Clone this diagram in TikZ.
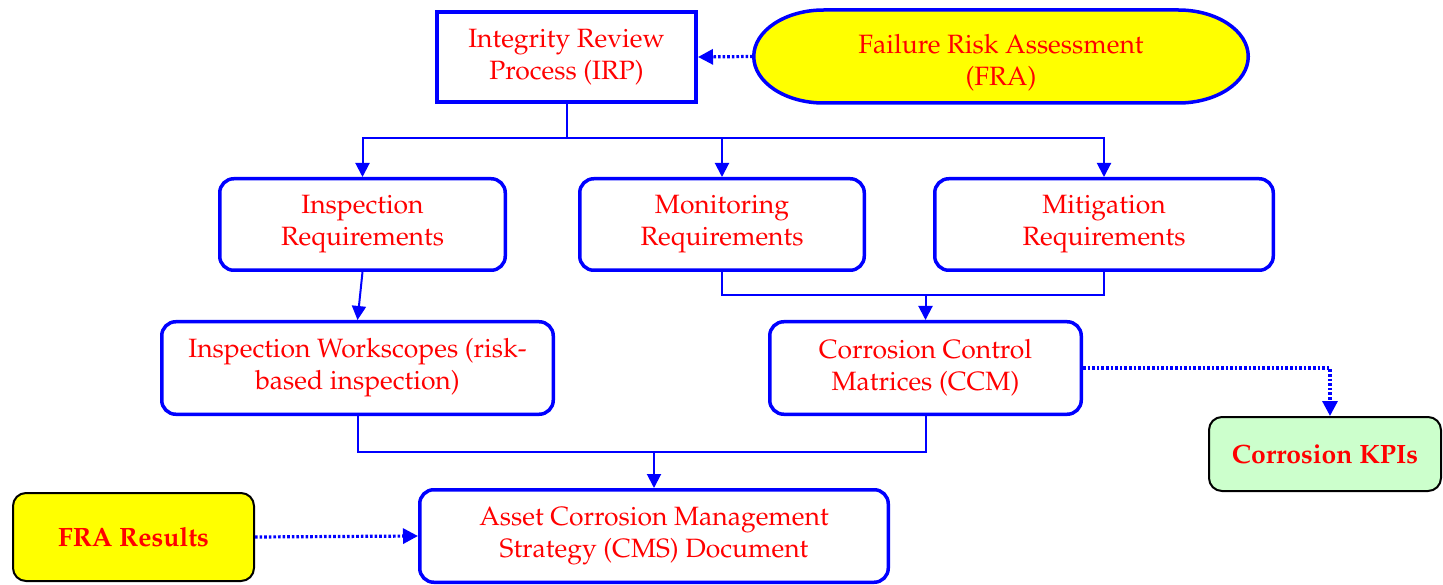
\documentclass[tikz,border=0pt]{standalone}
\usepackage[T1]{fontenc}
\usepackage{mathpazo}
\usetikzlibrary{arrows.meta}
\definecolor{kpigreen}{RGB}{204,255,204}
\definecolor{pyellow}{RGB}{255,255,0}
\definecolor{pblue}{RGB}{0,0,255}
\definecolor{pred}{RGB}{255,0,0}
\begin{document}
\begin{tikzpicture}[x=1pt,y=-1pt,
  txt/.style={text=pred, align=center, font=\fontsize{26.5}{32}\selectfont, inner sep=0pt},
  bluebox/.style={txt, draw=pblue, line width=3.5pt, rounded corners=14pt, fill=white},
  irpbox/.style={txt, draw=pblue, line width=4pt, fill=white},
  blackbox/.style={txt, draw=black, line width=2pt, rounded corners=13pt, font=\fontsize{26.5}{32}\selectfont\bfseries},
  conn/.style={draw=pblue, line width=2pt},
  arr/.style={conn, -{Triangle[length=14pt,width=14pt]}},
  dotarr/.style={draw=pblue, line width=3.2pt, dash pattern=on 2.6pt off 2pt, -{Triangle[length=15pt,width=15pt]}}
]
\useasboundingbox (0,0) rectangle (1443,585);
\fill[white] (0,0) rectangle (1443,585);

% FRA elliptic-ended shape
\draw[draw=pblue, line width=3.5pt, fill=pyellow]
  (823.75,10) -- (1178.25,10)
  .. controls (1216.9,10) and (1248.25,30.8) .. (1248.25,56.5)
  .. controls (1248.25,82.2) and (1216.9,103) .. (1178.25,103)
  -- (823.75,103)
  .. controls (785.1,103) and (753.75,82.2) .. (753.75,56.5)
  .. controls (753.75,30.8) and (785.1,10) .. cycle;

% nodes
\node[irpbox, minimum width=259pt, minimum height=90pt] (irp) at (566.5,57) {Integrity Review\\Process (IRP)};
\node[minimum width=496pt, minimum height=95pt, inner sep=0pt] (fra) at (1001,56.5) {};
\node[txt] (fratext) at (1001,63) {Failure Risk Assessment\\(FRA)};

\node[bluebox, minimum width=285.5pt, minimum height=91.5pt] (ireq) at (362.5,224.5) {Inspection\\Requirements};
\node[bluebox, minimum width=284.5pt, minimum height=91.5pt] (mreq) at (722,224.5) {Monitoring\\Requirements};
\node[bluebox, minimum width=338.5pt, minimum height=91.5pt] (mitreq) at (1104,224.5) {Mitigation\\Requirements};

\node[bluebox, minimum width=391.5pt, minimum height=92.5pt] (iws) at (357.5,368) {Inspection Workscopes (risk-\\based inspection)};
\node[bluebox, minimum width=311.5pt, minimum height=92.5pt] (ccm) at (925.5,368) {Corrosion Control\\Matrices (CCM)};

\node[blackbox, fill=kpigreen, minimum width=232pt, minimum height=74pt] (kpi) at (1325,454) {Corrosion KPIs};

\node[bluebox, minimum width=468.5pt, minimum height=92.5pt] (cms) at (654,536) {Asset Corrosion Management\\Strategy (CMS) Document};
\node[blackbox, fill=pyellow, minimum width=241pt, minimum height=88pt] (frares) at (133.5,537) {FRA Results};

% junctions
\coordinate (j1) at (566.5,138);
\coordinate (j2) at (925.5,295);
\coordinate (j3) at (654,452);

% connectors
\draw[conn] (irp.south) -- (j1);
\draw[arr] (j1) -| (ireq.north);
\draw[arr] (j1) -| (mreq.north);
\draw[arr] (j1) -| (mitreq.north);

\draw[arr] (ireq.south) -- (iws.north);

\draw[conn] (mreq.south) |- (j2) -| (mitreq.south);
\draw[arr] (j2) -- (ccm.north);

\draw[conn] (iws.south) |- (j3) -| (ccm.south);
\draw[arr] (j3) -- (cms.north);

\draw[dotarr] (fra.west) -- (irp.east);
\draw[dotarr] (ccm.east) -| ([xshift=5pt]kpi.north);
\draw[dotarr] (frares.east) -- (cms.west);
\end{tikzpicture}
\end{document}
